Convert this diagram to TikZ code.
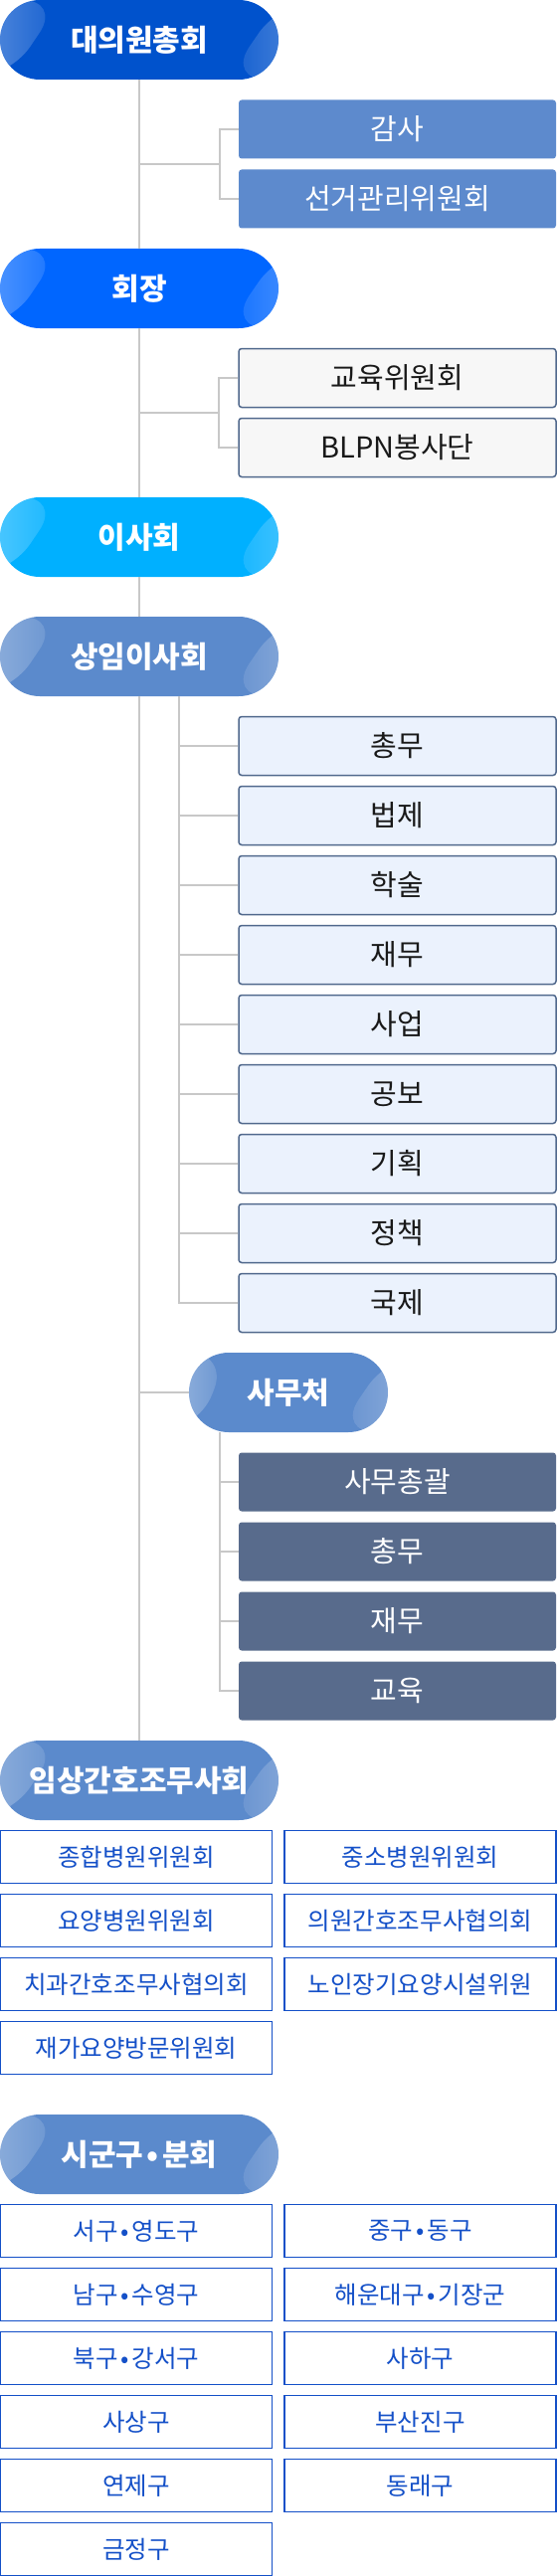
\documentclass[tikz,border=0pt]{standalone}
\usepackage{fontspec}
\setmainfont{Noto Sans CJK KR}
\usepackage{xcolor}
\usetikzlibrary{fadings,calc}

\definecolor{assemblyblue}{HTML}{0052CC}
\definecolor{presblue}{HTML}{0066FF}
\definecolor{boardblue}{HTML}{00B0FF}
\definecolor{steelblue}{HTML}{5B8ACC}
\definecolor{auditblue}{HTML}{5D8ACD}
\definecolor{slateline}{HTML}{50688C}
\definecolor{slatefill}{HTML}{586B8C}
\definecolor{paleblue}{HTML}{EBF2FD}
\definecolor{palegray}{HTML}{F7F7F7}
\definecolor{cellblue}{HTML}{1450C8}
\definecolor{linegray}{HTML}{C8C8C8}
\newcommand{\sepdot}{\hspace{.12em}•\hspace{.12em}}

\begin{document}
\begin{tikzpicture}[x=1pt,y=-1pt,
  link/.style={draw=linegray,line width=2pt},
  sheen/.style={path picture={
    \fill[white,fill opacity=.08] (path picture bounding box.north west) -- ([xshift=#1]path picture bounding box.north west) -- ([xshift=8pt]path picture bounding box.south west) -- (path picture bounding box.south west) -- cycle;
    \fill[white,fill opacity=.22,path fading=east] (path picture bounding box.north west) -- ([xshift=#1]path picture bounding box.north west) -- ([xshift=8pt]path picture bounding box.south west) -- (path picture bounding box.south west) -- cycle;
    \fill[white,fill opacity=.06] ([xshift=-52pt]path picture bounding box.south east) -- ([xshift=3pt]path picture bounding box.north east) -- ([xshift=6pt]path picture bounding box.north east) -- ([xshift=6pt]path picture bounding box.south east) -- cycle;
    \fill[white,fill opacity=.20,path fading=west] ([xshift=-52pt]path picture bounding box.south east) -- ([xshift=3pt]path picture bounding box.north east) -- ([xshift=6pt]path picture bounding box.north east) -- ([xshift=6pt]path picture bounding box.south east) -- cycle;
  }},
  pill/.style={rounded corners=40pt,minimum width=280pt,minimum height=80pt,inner sep=0pt,
    text=white,font=\fontsize{30pt}{34pt}\selectfont\bfseries,sheen=62pt},
  unit/.style={rounded corners=3pt,minimum width=319pt,minimum height=59pt,inner sep=0pt,
    font=\fontsize{29pt}{33pt}\selectfont},
  bluebox/.style={unit,fill=auditblue,text=white},
  greybox/.style={unit,fill=palegray,draw=slateline,line width=1.5pt,text=black!90},
  lightbox/.style={unit,fill=paleblue,draw=slateline,line width=1.5pt,text=black!90},
  darkbox/.style={unit,fill=slatefill,text=white},
  cellbox/.style={minimum width=273pt,minimum height=53pt,inner sep=0pt,draw=cellblue,
    line width=1.2pt,fill=white,text=cellblue,font=\fontsize{24.5pt}{28pt}\selectfont}]
\useasboundingbox (0,0) rectangle (560,2590);

% main chain
\node[pill,fill=assemblyblue] (gen) at (140,40) {대의원총회};
\node[pill,fill=presblue] (pres) at (140,290) {회장};
\node[pill,fill=boardblue] (board) at (140,540) {이사회};
\node[pill,fill=steelblue] (exec) at (140,660) {상임이사회};
\node[pill,fill=steelblue,minimum width=200pt,sheen=40pt] (office) at (290,1400) {사무처};
\node[pill,fill=steelblue] (clin) at (140,1790) {임상간호조무사회};
\node[pill,fill=steelblue] (dist) at (140,2166) {시군구\sepdot 분회};

% side units
\node[bluebox] (audit) at (399.5,130) {감사};
\node[bluebox] (elect) at (399.5,200) {선거관리위원회};
\node[greybox] (edu) at (399.5,380) {교육위원회};
\node[greybox] (blpn) at (399.5,450) {BLPN봉사단};
\foreach \name [count=\i] in {총무,법제,학술,재무,사업,공보,기획,정책,국제}
  \node[lightbox] (dept\i) at (399.5,680+70*\i) {\name};
\foreach \name [count=\i] in {사무총괄,총무,재무,교육}
  \node[darkbox] (staff\i) at (399.5,1420+70*\i) {\name};

% committees and districts
\foreach \name [count=\i] in {종합병원위원회,중소병원위원회,요양병원위원회,의원간호조무사협의회,치과간호조무사협의회,노인장기요양시설위원,재가요양방문위원회}{
  \pgfmathsetmacro{\cx}{137+285.5*mod(\i-1,2)}
  \pgfmathsetmacro{\cy}{1867+64*floor((\i-1)/2)}
  \node[cellbox] (comm\i) at (\cx,\cy) {\name};
}
\foreach \name [count=\i] in {서구\sepdot 영도구,중구\sepdot 동구,남구\sepdot 수영구,해운대구\sepdot 기장군,북구\sepdot 강서구,사하구,사상구,부산진구,연제구,동래구,금정구}{
  \pgfmathsetmacro{\cx}{137+285.5*mod(\i-1,2)}
  \pgfmathsetmacro{\cy}{2243+64*floor((\i-1)/2)}
  \node[cellbox] (ward\i) at (\cx,\cy) {\name};
}

% connectors
\draw[link] (gen) -- (pres);
\draw[link] (pres) -- (board);
\draw[link] (board) -- (exec);
\draw[link] (exec) -- (clin);
\coordinate (genbus) at ($(gen.south)!.5!(pres.north)$);
\coordinate (presbus) at ($(pres.south)!.5!(board.north)$);
\draw[link] (audit.west) -- ++(-19,0) |- (genbus);
\draw[link] (elect.west) -- ++(-19,0) |- (genbus);
\draw[link] (edu.west) -- ++(-19,0) |- (presbus);
\draw[link] (blpn.west) -- ++(-19,0) |- (presbus);
\coordinate (execbus) at ([xshift=40pt]exec.south);
\foreach \i in {1,...,9}
  \draw[link] (execbus) |- (dept\i.west);
\draw[link] (office.west) -- (office.west -| exec.south);
\coordinate (officebus) at ([xshift=-69pt]office.south);
\foreach \i in {1,...,4}
  \draw[link] (officebus) |- (staff\i.west);
\end{tikzpicture}
\end{document}
